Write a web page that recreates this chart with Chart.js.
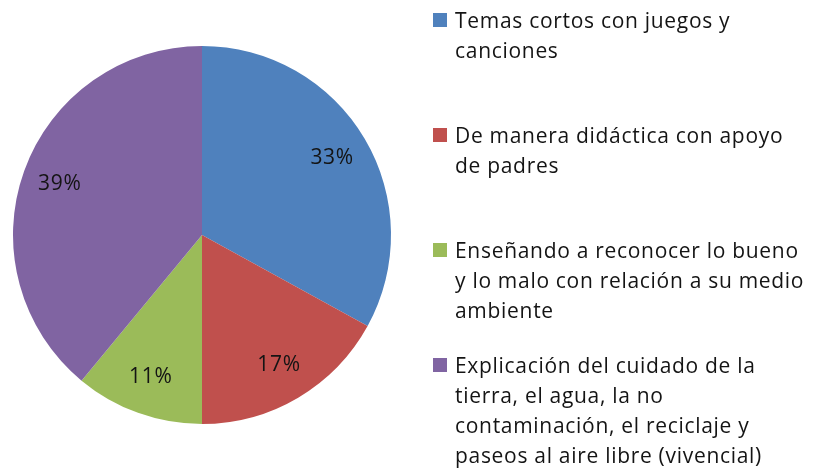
<!DOCTYPE html>
<html><head><meta charset="utf-8">
<script src="https://cdn.jsdelivr.net/npm/chart.js@4/dist/chart.umd.min.js"></script>
<style>html,body{margin:0;padding:0;background:#fff}#wrap{position:relative;width:820px;height:472px}</style>
</head><body><div id="wrap"><canvas id="c" width="820" height="472"></canvas></div>
<script>
const categories = [
  ["Temas cortos con juegos y", "canciones"],
  ["De manera didáctica con apoyo", "de padres"],
  ["Enseñando a reconocer lo bueno", "y lo malo con relación a su medio", "ambiente"],
  ["Explicación del cuidado de la", "tierra, el agua, la no", "contaminación, el reciclaje y", "paseos al aire libre (vivencial)"]
];
const values = [33, 17, 11, 39];
const colors = ["#4F81BD", "#C0504D", "#9BBB59", "#8064A2"];

const FONT = '21px "Open Sans", sans-serif';
const SPACING = '0.7px';
const TEXT = '#141414';

const labelPlugin = {
  id: 'sliceLabels',
  afterDatasetsDraw(chart) {
    const ctx = chart.ctx;
    const meta = chart.getDatasetMeta(0);
    const total = values.reduce((a, b) => a + b, 0);
    ctx.save();
    ctx.font = FONT;
    ctx.letterSpacing = SPACING;
    ctx.fillStyle = TEXT;
    ctx.textAlign = 'center';
    ctx.textBaseline = 'middle';
    meta.data.forEach((arc, i) => {
      const p = arc.getProps(['x', 'y', 'startAngle', 'endAngle', 'outerRadius'], true);
      const mid = (p.startAngle + p.endAngle) / 2;
      const r = p.outerRadius * 0.8;
      ctx.fillText(Math.round(values[i] / total * 100) + '%', p.x + Math.cos(mid) * r, p.y + Math.sin(mid) * r);
    });
    ctx.restore();
  }
};

const legendPlugin = {
  id: 'sideLegend',
  afterDraw(chart) {
    const ctx = chart.ctx;
    ctx.save();
    ctx.font = FONT;
    ctx.letterSpacing = SPACING;
    ctx.textBaseline = 'alphabetic';
    ctx.textAlign = 'left';
    const x0 = 433, tx = 455, firstBase = 28, step = 115, lh = 30;
    categories.forEach((lines, i) => {
      const base = firstBase + i * step;
      ctx.fillStyle = colors[i];
      ctx.fillRect(x0, base - 15, 14, 14);
      ctx.fillStyle = TEXT;
      lines.forEach((ln, j) => ctx.fillText(ln, tx, base + j * lh));
    });
    ctx.restore();
  }
};

new Chart(document.getElementById('c'), {
  type: 'pie',
  data: {
    labels: categories,
    datasets: [{ data: values, backgroundColor: colors, borderWidth: 0 }]
  },
  options: {
    responsive: false,
    animation: false,
    layout: { padding: { left: 13, top: 46, right: 429, bottom: 48 } },
    plugins: { legend: { display: false }, tooltip: { enabled: false } }
  },
  plugins: [labelPlugin, legendPlugin]
});
</script></body></html>
